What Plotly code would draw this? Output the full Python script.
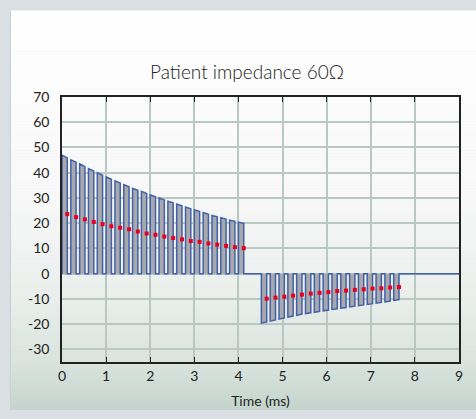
import plotly.graph_objects as go

# ---- data ----
pos_start = [0.0, 0.2, 0.4, 0.6, 0.8, 1.0, 1.2, 1.4, 1.6, 1.8, 2.0,
             2.2, 2.4, 2.6, 2.8, 3.0, 3.2, 3.4, 3.6, 3.8, 4.0]
pos_amp = [47.0, 45.1, 43.5, 41.6, 40.0, 38.3, 36.8, 35.3, 33.8, 32.6, 31.2,
           30.0, 28.7, 27.6, 26.4, 25.3, 24.2, 23.1, 22.2, 21.2, 20.4]
pos_dots = [23.6, 22.4, 21.5, 20.5, 19.6, 18.8, 18.2, 17.6, 16.7, 15.9, 15.4,
            14.7, 14.1, 13.6, 12.9, 12.6, 12.0, 11.5, 11.0, 10.5, 10.1]
neg_start = [4.52, 4.72, 4.92, 5.12, 5.32, 5.52, 5.72, 5.92,
             6.12, 6.32, 6.52, 6.72, 6.92, 7.12, 7.32, 7.52]
neg_amp = [-19.6, -18.8, -18.0, -17.2, -16.5, -15.8, -15.3, -14.7,
           -14.2, -13.7, -13.2, -12.7, -12.2, -11.7, -11.2, -10.6]
neg_dots = [-9.9, -9.5, -9.1, -8.7, -8.3, -7.9, -7.6, -7.3,
            -6.9, -6.7, -6.4, -6.2, -5.9, -5.8, -5.5, -5.3]
x_ticks = [0, 1, 2, 3, 4, 5, 6, 7, 8, 9]
y_ticks = [-30, -20, -10, 0, 10, 20, 30, 40, 50, 60, 70]
y_tick_labels = ["-30", "-20", "-10", "0", "10", "20", "30", "40", "50", "60", "70"]
title_text = "Patient impedance 60Ω"
x_title = "Time (ms)"
t_end = 9.0
pulse_on = 0.12

# ---- build waveform ----
wx, wy = [0.0], [0.0]
def add_train(starts, amps):
    for i, (s, a) in enumerate(zip(starts, amps)):
        nxt = amps[i + 1] if i + 1 < len(amps) else a + (a - amps[i - 1])
        a_end = a - (a - nxt) * 0.6
        e = s + pulse_on
        wx.extend([s, s, e, e])
        wy.extend([0.0, a, a_end, 0.0])
add_train(pos_start, pos_amp)
add_train(neg_start, neg_amp)
wx.append(t_end)
wy.append(0.0)

dot_x = [s + pulse_on for s in pos_start] + [s + pulse_on for s in neg_start]
dot_y = pos_dots + neg_dots

fig = go.Figure()
fig.add_trace(go.Scatter(x=wx, y=wy, mode="lines", fill="tozeroy",
                         fillcolor="#a9a9ab",
                         line=dict(color="#4261ad", width=1.5),
                         hoverinfo="skip", showlegend=False))
fig.add_trace(go.Scatter(x=dot_x, y=dot_y, mode="markers",
                         marker=dict(symbol="square", size=4, color="#e8001c",
                                     line=dict(width=0)),
                         showlegend=False))

# ---- background panel gradient (pixel -> paper conversion) ----
L, R, T, B = 62, 17, 97, 49
W, H = 476, 419
pw, ph = W - L - R, H - T - B
def px2x(px): return (px - L) / pw
def py2y(py): return (H - B - py) / ph

stops = [(8, (255, 255, 255)), (200, (247, 248, 247)), (300, (234, 239, 236)),
         (370, (218, 228, 223)), (419, (196, 213, 205))]
def col_at(py):
    for (y0, c0), (y1, c1) in zip(stops[:-1], stops[1:]):
        if y0 <= py <= y1:
            f = (py - y0) / (y1 - y0)
            return "rgb(%d,%d,%d)" % tuple(round(c0[k] + (c1[k] - c0[k]) * f) for k in range(3))
    return "rgb(%d,%d,%d)" % stops[-1][1]

shapes = []
step = 3
py = 8
while py < H:
    shapes.append(dict(type="rect", xref="paper", yref="paper", layer="below",
                       x0=px2x(10), x1=px2x(W + 2), y0=py2y(min(py + step + 0.5, H + 1)), y1=py2y(py),
                       fillcolor=col_at(py + step / 2), line=dict(width=0)))
    py += step
shapes.append(dict(type="line", xref="paper", yref="paper", layer="below",
                   x0=px2x(10.5), x1=px2x(10.5), y0=py2y(H), y1=py2y(8),
                   line=dict(color="#c9d1d4", width=1)))

font_family = "Lato, 'DejaVu Sans', sans-serif"
fig.update_layout(
    width=W, height=H,
    margin=dict(l=L, r=R, t=T, b=B),
    paper_bgcolor="#d9dfe2",
    plot_bgcolor="rgba(0,0,0,0)",
    shapes=shapes,
    font=dict(family=font_family, color="#222222", size=12),
    title=dict(text=title_text, x=247 / W, xref="container", xanchor="center",
               y=1 - 72 / H, yref="container", yanchor="middle",
               font=dict(size=19, color="#222222", weight=300)),
)
fig.update_xaxes(range=[0, 9], tickvals=x_ticks, showgrid=True,
                 gridcolor="#b9c9c1", gridwidth=2, zeroline=False,
                 showline=True, linecolor="#222222", linewidth=1.5, mirror="ticks",
                 ticks="inside", ticklen=5, tickcolor="#222222",
                 title=dict(text=x_title, standoff=14, font=dict(size=14)),
                 tickfont=dict(size=14))
fig.update_yaxes(range=[-35, 70], tickvals=y_ticks, ticktext=y_tick_labels,
                 showgrid=True,
                 gridcolor="#b9c9c1", gridwidth=2, zeroline=False,
                 showline=True, linecolor="#222222", linewidth=1.5, mirror=True,
                 ticks="", ticklabelstandoff=8, tickfont=dict(size=14))

fig.write_html("out.html")
